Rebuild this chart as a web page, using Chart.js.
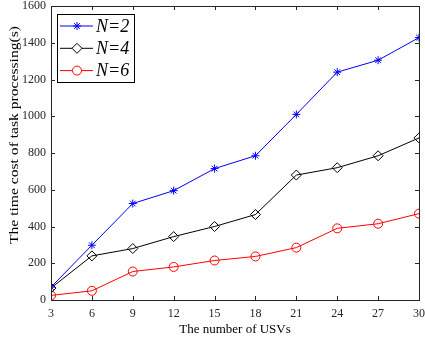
<!DOCTYPE html>
<html>
<head>
<meta charset="utf-8">
<script src="https://cdn.jsdelivr.net/npm/chart.js@4.4.0/dist/chart.umd.min.js"></script>
<style>
  body { margin: 0; background: #fff; }
  #wrap { width: 425px; height: 341px; }
</style>
</head>
<body>
<div id="wrap"><canvas id="chart" width="425" height="341"></canvas></div>
<script>
// x values (number of USVs)
const usvCounts = [3, 6, 9, 12, 15, 18, 21, 24, 27, 30];
// time cost per series
const costN2 = [70, 298, 525, 595, 715, 785, 1010, 1240, 1305, 1428];
const costN4 = [65, 240, 280, 345, 400, 465, 680, 720, 785, 882];
const costN6 = [25, 50, 155, 180, 215, 237, 285, 390, 415, 470];
const seriesNames = ['N=2', 'N=4', 'N=6'];
const yTitle = 'The time cost of task processing(s)';

const axisColor = '#262626';
const serif = "'Liberation Serif', 'Times New Roman', serif";

function toPoints(vals) {
  return usvCounts.map((x, i) => ({ x: x, y: vals[i] }));
}

// inward ticks + box around the plot, matlab style
const boxPlugin = {
  id: 'box',
  afterDraw(chart) {
    const ctx = chart.ctx;
    const ca = chart.chartArea;
    const xs = chart.scales.x, ys = chart.scales.y;
    ctx.save();
    ctx.strokeStyle = axisColor;
    ctx.lineWidth = 1;
    ctx.beginPath();
    xs.ticks.forEach(t => {
      const px = Math.round(xs.getPixelForValue(t.value)) + 0.5;
      ctx.moveTo(px, ca.bottom); ctx.lineTo(px, ca.bottom - 4);
      ctx.moveTo(px, ca.top); ctx.lineTo(px, ca.top + 4);
    });
    ys.ticks.forEach(t => {
      const py = Math.round(ys.getPixelForValue(t.value)) + 0.5;
      ctx.moveTo(ca.left, py); ctx.lineTo(ca.left + 4, py);
      ctx.moveTo(ca.right, py); ctx.lineTo(ca.right - 4, py);
    });
    ctx.stroke();
    ctx.strokeRect(Math.round(ca.left) + 0.5, Math.round(ca.top) + 0.5,
      Math.round(ca.right - ca.left), Math.round(ca.bottom - ca.top));

    // y title, a bit stretched like the source figure
    ctx.save();
    ctx.translate(15, 135);
    ctx.rotate(-Math.PI / 2);
    ctx.scale(1.2, 1);
    ctx.fillStyle = '#000';
    ctx.font = '13px ' + serif;
    ctx.textAlign = 'center';
    ctx.textBaseline = 'middle';
    ctx.fillText(yTitle, 0, 0);
    ctx.restore();

    // legend box top-left
    const lx = 57, ly = 14, lw = 77, lh = 68;
    ctx.fillStyle = '#fff';
    ctx.fillRect(lx, ly, lw, lh);
    ctx.strokeStyle = '#000';
    ctx.strokeRect(lx + 0.5, ly + 0.5, lw, lh);
    chart.data.datasets.forEach((ds, i) => {
      const cy = 26 + i * 22.3;
      ctx.strokeStyle = ds.borderColor;
      ctx.lineWidth = 1;
      ctx.beginPath();
      ctx.moveTo(60, cy); ctx.lineTo(93, cy);
      ctx.stroke();
      ctx.fillStyle = '#fff';
      Chart.helpers.drawPoint(ctx, {
        pointStyle: ds.pointStyle, radius: ds.pointRadius, borderWidth: 1
      }, 77, cy);
      ctx.fillStyle = '#000';
      ctx.font = 'italic 18px ' + serif;
      ctx.textBaseline = 'middle';
      ctx.textAlign = 'left';
      ctx.fillText(ds.label, 96, cy + 1);
    });
    ctx.restore();
  }
};

new Chart(document.getElementById('chart'), {
  type: 'line',
  data: {
    datasets: [
      { label: seriesNames[0], data: toPoints(costN2), borderColor: '#0000ff', backgroundColor: '#0000ff',
        pointStyle: 'star', pointRadius: 4, pointBorderWidth: 1, borderWidth: 1 },
      { label: seriesNames[1], data: toPoints(costN4), borderColor: '#000000', backgroundColor: 'rgba(0,0,0,0)',
        pointStyle: 'rectRot', pointRadius: 5, pointBorderWidth: 1, borderWidth: 1 },
      { label: seriesNames[2], data: toPoints(costN6), borderColor: '#ff0000', backgroundColor: 'rgba(0,0,0,0)',
        pointStyle: 'circle', pointRadius: 4.5, pointBorderWidth: 1, borderWidth: 1 }
    ]
  },
  options: {
    responsive: false,
    animation: false,
    events: [],
    layout: { padding: { top: 6, right: 2, left: 0, bottom: 0 } },
    plugins: { legend: { display: false }, tooltip: { enabled: false } },
    scales: {
      x: {
        type: 'linear', min: 3, max: 30,
        ticks: { stepSize: 3, color: axisColor, font: { family: serif, size: 12 }, padding: -1, maxRotation: 0 },
        grid: { display: false },
        border: { display: false },
        title: { display: true, text: 'The number of USVs', color: '#000', font: { family: serif, size: 13 }, padding: { top: 0 } },
        afterFit(s) { s.height = 41; s.paddingLeft = 0; s.paddingRight = 0; }
      },
      y: {
        min: 0, max: 1600,
        ticks: { stepSize: 200, color: axisColor, font: { family: serif, size: 12 }, padding: 5,
          callback: v => String(v) },
        grid: { display: false, drawTicks: false },
        border: { display: false },
        afterFit(s) { s.width = 51; s.paddingTop = 0; s.paddingBottom = 0; }
      }
    }
  },
  plugins: [boxPlugin]
});
</script>
</body>
</html>
